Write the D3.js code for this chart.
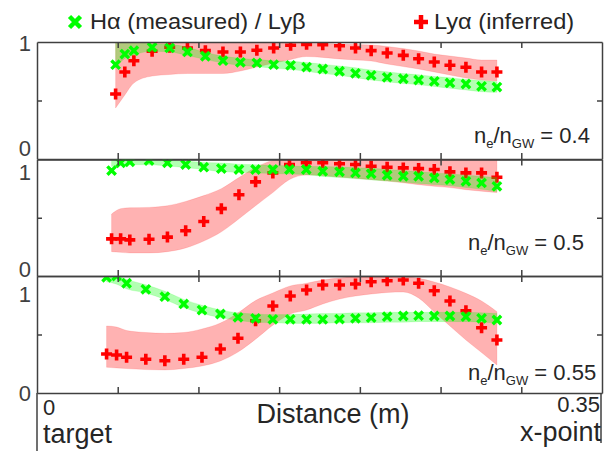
<!DOCTYPE html>
<html><head><meta charset="utf-8">
<script src="https://cdn.jsdelivr.net/npm/d3@7"></script>
<style>body{margin:0;background:#fff}svg{display:block;font-family:"Liberation Sans",Arial,sans-serif}</style>
</head><body><svg id="c" width="612" height="451"></svg>
<script>
// ---------- data ----------
const xTicks = [0.05, 0.10, 0.15, 0.20, 0.25, 0.30];
const yTickValues = [0, 0.5, 1];
const yTickLabels = ["0", "1"];
const densityLabels = ["0.4", "0.5", "0.55"];
const legendLabels = ["H\u03b1 (measured) / Ly\u03b2", "Ly\u03b1 (inferred)"];

const xShared = [0.1770,0.1874,0.1973,0.2070,0.2169,0.2269,0.2364,0.2461,0.2558,0.2657,0.2754,0.2849];
const xP1 = [0.0487,0.0544,0.0600,0.0713,0.0822,0.0932,0.1043,0.1152,0.1260,0.1362,0.1466,0.1571,0.1670].concat(xShared);
const xP2 = [0.0462,0.0518,0.0575,0.0694,0.0808,0.0921,0.1033,0.1142,0.1251,0.1354,0.1461,0.1564,0.1668].concat(xShared);
const xP3 = [0.0431,0.0493,0.0555,0.0674,0.0792,0.0909,0.1022,0.1136,0.1245,0.1354,0.1461,0.1569,0.1670].concat(xShared);

// Panel 1 (ne/nGW = 0.4)
const haP1 = [0.806,0.897,0.926,0.955,0.949,0.915,0.878,0.840,0.826,0.821,0.806,0.801,0.786,0.769,0.750,0.732,0.715,0.698,0.686,0.675,0.664,0.650,0.641,0.621,0.615];
const haHiP1 = [1,1,1,0.985,0.98,0.955,0.91,0.88,0.86,0.85,0.84,0.835,0.825,0.81,0.795,0.78,0.76,0.745,0.73,0.72,0.705,0.695,0.68,0.67,0.66];
const haLoP1 = [0.78,0.86,0.89,0.92,0.915,0.885,0.85,0.82,0.80,0.79,0.775,0.765,0.75,0.73,0.715,0.695,0.675,0.66,0.645,0.635,0.62,0.605,0.59,0.575,0.57];
const lyaP1 = [0.556,0.744,0.840,0.921,0.955,0.949,0.926,0.915,0.915,0.929,0.949,0.972,0.980,0.977,0.968,0.949,0.926,0.906,0.886,0.857,0.829,0.801,0.784,0.744,0.744];
const lyaHiP1 = [1,1,1,1,1,1,1,1,1,1,1,1,0.99,0.987,0.983,0.979,0.974,0.962,0.944,0.923,0.897,0.88,0.863,0.846,0.846];
const lyaLoP1 = [0.436,0.547,0.650,0.709,0.722,0.731,0.731,0.731,0.752,0.786,0.820,0.850,0.876,0.868,0.855,0.846,0.838,0.812,0.79,0.769,0.744,0.718,0.692,0.675,0.667];

// Panel 2 (ne/nGW = 0.5)
const haP2 = [0.905,0.972,0.980,0.991,0.972,0.957,0.934,0.922,0.914,0.914,0.914,0.914,0.914,0.899,0.894,0.885,0.877,0.865,0.856,0.856,0.842,0.828,0.813,0.799,0.770];
const haHiP2 = [1,1,1,1,0.995,0.985,0.975,0.97,0.96,0.955,0.95,0.945,0.94,0.94,0.935,0.93,0.925,0.915,0.905,0.895,0.885,0.875,0.865,0.855,0.845];
const haLoP2 = [0.94,0.95,0.955,0.955,0.945,0.93,0.915,0.895,0.89,0.885,0.88,0.875,0.87,0.855,0.845,0.835,0.825,0.815,0.805,0.795,0.785,0.775,0.76,0.745,0.725];
const lyaP2 = [0.319,0.319,0.310,0.316,0.334,0.388,0.468,0.578,0.698,0.808,0.885,0.957,0.972,0.972,0.963,0.957,0.942,0.934,0.928,0.922,0.914,0.894,0.885,0.885,0.847];
const lyaHiP2 = [0.532,0.578,0.586,0.589,0.603,0.64,0.69,0.75,0.845,0.931,0.99,1,1,1,1,1,1,1,1,1,1,1,1,1,1];
const lyaLoP2 = [0.209,0.203,0.198,0.198,0.209,0.241,0.30,0.379,0.491,0.603,0.716,0.828,0.866,0.862,0.849,0.84,0.828,0.815,0.80,0.784,0.77,0.759,0.741,0.728,0.716];

// Panel 3 (ne/nGW = 0.55)
const haP3 = [0.989,1.0,0.938,0.886,0.823,0.761,0.709,0.675,0.647,0.638,0.630,0.630,0.630,0.630,0.632,0.638,0.644,0.652,0.658,0.661,0.658,0.658,0.652,0.638,0.624];
const haHiP3 = [1,1,0.97,0.925,0.87,0.80,0.75,0.71,0.685,0.675,0.67,0.67,0.675,0.68,0.68,0.685,0.685,0.69,0.69,0.69,0.69,0.69,0.69,0.685,0.68];
const haLoP3 = [0.95,0.93,0.89,0.855,0.80,0.73,0.68,0.645,0.62,0.605,0.60,0.595,0.595,0.595,0.6,0.6,0.6,0.605,0.605,0.61,0.61,0.61,0.61,0.605,0.6];
const lyaP3 = [0.333,0.325,0.305,0.288,0.276,0.288,0.305,0.376,0.468,0.618,0.744,0.829,0.880,0.923,0.923,0.932,0.951,0.960,0.966,0.938,0.874,0.786,0.703,0.558,0.453];
const lyaHiP3 = [0.573,0.564,0.534,0.517,0.51,0.517,0.547,0.598,0.684,0.79,0.855,0.915,0.938,0.966,0.983,0.991,0.994,0.994,0.994,0.98,0.949,0.906,0.852,0.786,0.695];
const lyaLoP3 = [0.22,0.214,0.209,0.2,0.197,0.209,0.231,0.274,0.35,0.46,0.58,0.675,0.709,0.761,0.803,0.829,0.846,0.859,0.863,0.812,0.692,0.573,0.453,0.346,0.239];

// ---------- layout ----------
const svg = d3.select("#c");
const TXT = "#262626", AX = "#404040";
const GREEN = "#00ff00", RED = "#ff0000";
const x = d3.scaleLinear().domain([0, 0.35]).range([37, 602]);

const panels = [
  {top:42, bottom:159, xs:xP1, ha:haP1, haHi:haHiP1, haLo:haLoP1, ly:lyaP1, lyHi:lyaHiP1, lyLo:lyaLoP1, lab:densityLabels[0], lx:474, ly0:143, dy:[-11, 1]},
  {top:159.5, bottom:276, xs:xP2, ha:haP2, haHi:haHiP2, haLo:haLoP2, ly:lyaP2, lyHi:lyaHiP2, lyLo:lyaLoP2, lab:densityLabels[1], lx:468, ly0:250, dy:[-7, 13]},
  {top:276, bottom:393, xs:xP3, ha:haP3, haHi:haHiP3, haLo:haLoP3, ly:lyaP3, lyHi:lyaHiP3, lyLo:lyaLoP3, lab:densityLabels[2], lx:468, ly0:380, dy:[0.5, 18.5]}
];

const plusPath = "M-5.5,0H5.5M0,-5.5V5.5";
const crossPath = "M-4.2,-4.2L4.2,4.2M-4.2,4.2L4.2,-4.2";

panels.forEach((p, i) => {
  const y = d3.scaleLinear().domain([0, 1]).range([p.bottom, p.top]);
  const g = svg.append("g");
  const cid = "clip" + i;
  svg.append("clipPath").attr("id", cid).append("rect")
    .attr("x", x(0)).attr("y", p.top).attr("width", x(0.35) - x(0)).attr("height", p.bottom - p.top);
  const plot = g.append("g").attr("clip-path", `url(#${cid})`);

  const redBand = p.xs.map((xv, k) => ({x: xv, lo: p.lyLo[k], hi: p.lyHi[k]}));
  const greenBand = p.xs.map((xv, k) => ({x: xv, lo: p.haLo[k], hi: p.haHi[k]}));
  const area = d3.area().x(d => x(d.x)).y0(d => y(d.lo)).y1(d => y(d.hi)).curve(d3.curveMonotoneX);

  plot.append("path").datum(redBand).attr("d", area)
    .attr("fill", RED).attr("fill-opacity", 0.3).attr("stroke", RED).attr("stroke-opacity", 0.12).attr("stroke-width", 1);
  plot.append("g").selectAll("path").data(p.xs).join("path")
    .attr("d", plusPath).attr("transform", (d, k) => `translate(${x(d)},${y(p.ly[k])})`)
    .attr("stroke", RED).attr("stroke-width", 3.6).attr("fill", "none");
  plot.append("path").datum(greenBand).attr("d", area)
    .attr("fill", GREEN).attr("fill-opacity", 0.3).attr("stroke", GREEN).attr("stroke-opacity", 0.12).attr("stroke-width", 1);
  plot.append("g").selectAll("path").data(p.xs).join("path")
    .attr("d", crossPath).attr("transform", (d, k) => `translate(${x(d)},${y(p.ha[k])})`)
    .attr("stroke", GREEN).attr("stroke-width", 3.4).attr("fill", "none");

  // axes (inward ticks, frame lines)
  const styleAx = sel => { sel.selectAll("path,line").attr("stroke", AX).attr("stroke-width", 1.5); sel.selectAll("text").remove(); };
  g.append("g").attr("transform", `translate(0,${p.bottom})`)
    .call(d3.axisBottom(x).tickValues(xTicks).tickSizeInner(-6).tickSizeOuter(0).tickFormat("")).call(styleAx);
  g.append("g").attr("transform", `translate(0,${p.top})`)
    .call(d3.axisTop(x).tickValues(xTicks).tickSizeInner(-6).tickSizeOuter(0).tickFormat("")).call(styleAx);
  g.append("g").attr("transform", `translate(${x(0)},0)`)
    .call(d3.axisLeft(y).tickValues([yTickValues[1]]).tickSizeInner(-5).tickSizeOuter(0).tickFormat("")).call(styleAx);
  g.append("g").attr("transform", `translate(${x(0.35)},0)`)
    .call(d3.axisRight(y).tickValues([yTickValues[1]]).tickSizeInner(-5).tickSizeOuter(0).tickFormat("")).call(styleAx);

  // y tick labels "0" and "1"
  [yTickValues[0], yTickValues[2]].forEach((v, k) => {
    g.append("text").attr("x", 31).attr("y", y(v) + p.dy[k]).attr("dy", "0.36em")
      .attr("text-anchor", "end").attr("font-size", 22).attr("fill", AX).text(yTickLabels[k]);
  });

  // density annotation
  const t = g.append("text").attr("x", p.lx).attr("y", p.ly0).attr("font-size", 22).attr("fill", TXT);
  t.append("tspan").text("n");
  t.append("tspan").attr("font-size", 13).attr("dy", 5).text("e");
  t.append("tspan").attr("dy", -5).text("/n");
  t.append("tspan").attr("font-size", 13).attr("dy", 5).text("GW");
  t.append("tspan").attr("dy", -5).text(" = " + p.lab);
});

// lower label box lines
svg.append("line").attr("x1", x(0)).attr("x2", x(0)).attr("y1", 393).attr("y2", 451).attr("stroke", AX).attr("stroke-width", 1.5);
svg.append("line").attr("x1", 601).attr("x2", 601).attr("y1", 393).attr("y2", 443).attr("stroke", AX).attr("stroke-width", 1.5);

// x labels
svg.append("text").attr("x", 43).attr("y", 415).attr("font-size", 22).attr("fill", TXT).text("0");
svg.append("text").attr("x", 43).attr("y", 443).attr("font-size", 27).attr("fill", TXT).text("target");
svg.append("text").attr("x", 333).attr("y", 423).attr("text-anchor", "middle").attr("font-size", 27).attr("fill", TXT).text("Distance (m)");
svg.append("text").attr("x", 600).attr("y", 412).attr("text-anchor", "end").attr("font-size", 22).attr("fill", TXT).text("0.35");
svg.append("text").attr("x", 601).attr("y", 441).attr("text-anchor", "end").attr("font-size", 27).attr("fill", TXT).text("x-point");

// legend
const lg = svg.append("g");
lg.append("path").attr("d", "M-5.5,-5.5L5.5,5.5M-5.5,5.5L5.5,-5.5").attr("transform", "translate(75,22)")
  .attr("stroke", GREEN).attr("stroke-width", 4.5).attr("fill", "none");
lg.append("text").attr("transform", "translate(90,29) scale(1.075,1)").attr("font-size", 22).attr("fill", TXT).text(legendLabels[0]);
lg.append("path").attr("d", "M-7,0H7M0,-7V7").attr("transform", "translate(421,22)")
  .attr("stroke", RED).attr("stroke-width", 4.5).attr("fill", "none");
lg.append("text").attr("transform", "translate(434,29) scale(1.075,1)").attr("font-size", 22).attr("fill", TXT).text(legendLabels[1]);
</script></body></html>
